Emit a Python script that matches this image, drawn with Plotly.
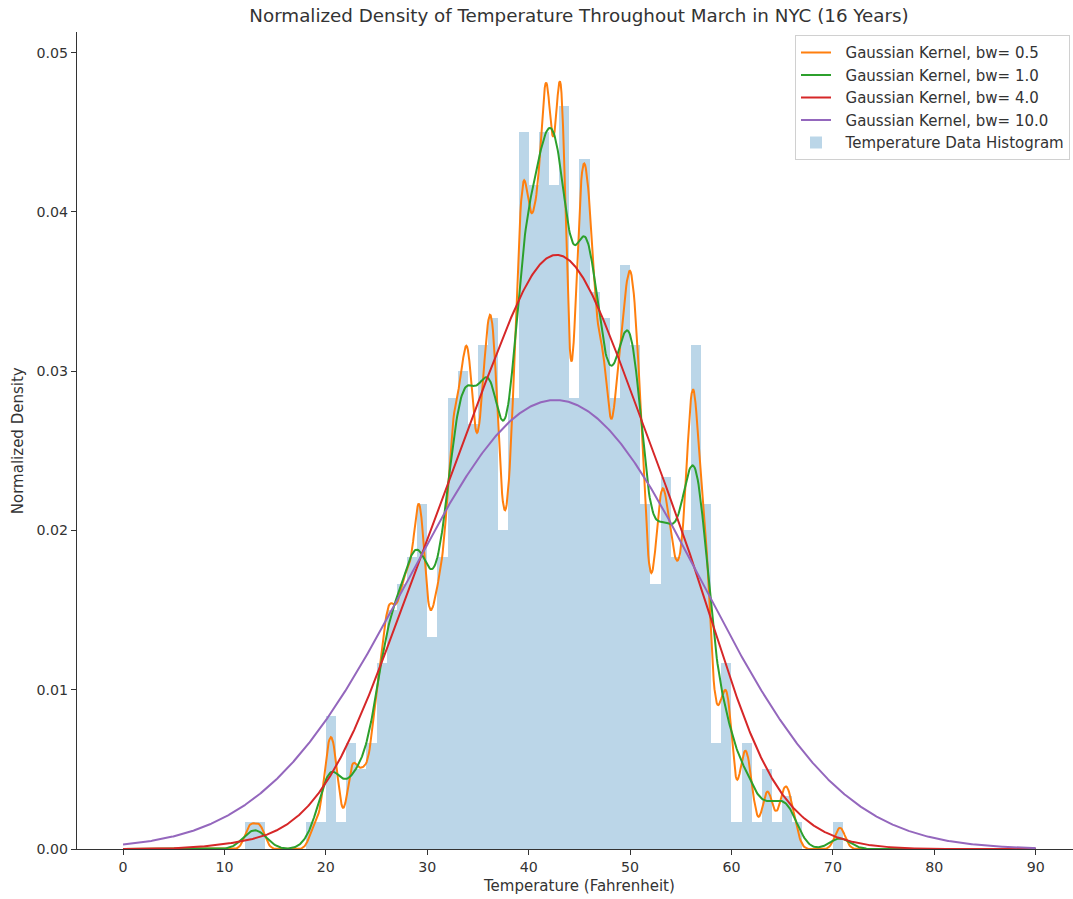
import numpy as np
import plotly.graph_objects as go

# ---- data ----
# histogram bins are 1 degF wide, starting at these left edges
bin_left = list(range(12, 71))
# position of the readings inside each bin (degF above the bin's left edge)
sub_offsets = [0.1, 0.3, 0.5, 0.7, 0.9]
# number of March days at each sub-position, one row per bin
sub_counts = [
    [0, 0, 1, 0, 0], [0, 0, 1, 0, 0], [0, 0, 0, 0, 0], [0, 0, 0, 0, 0], [0, 0, 0, 0, 0],   # 12-16
    [0, 0, 0, 0, 0], [0, 0, 0, 0, 1], [0, 0, 0, 0, 1], [1, 1, 1, 1, 1], [1, 0, 0, 0, 0],   # 17-21
    [0, 1, 1, 1, 1], [0, 0, 1, 1, 1], [0, 0, 1, 1, 2], [1, 1, 1, 2, 2], [2, 2, 2, 2, 1],   # 22-26
    [2, 2, 2, 2, 2], [3, 2, 1, 2, 3], [3, 4, 3, 2, 1], [1, 2, 2, 2, 1], [3, 2, 2, 2, 2],   # 27-31
    [3, 3, 4, 4, 3], [3, 3, 4, 4, 4], [5, 4, 3, 2, 2], [4, 3, 3, 4, 5], [3, 5, 5, 4, 3],   # 32-36
    [3, 2, 2, 2, 3], [2, 3, 3, 4, 5], [4, 6, 6, 6, 5], [3, 4, 5, 6, 7], [1, 4, 8, 9, 5],   # 37-41
    [7, 3, 3, 5, 7], [7, 8, 7, 4, 2], [1, 3, 4, 5, 4], [6, 6, 6, 5, 3], [7, 5, 4, 3, 2],   # 42-46
    [5, 5, 4, 3, 3], [3, 2, 3, 4, 5], [4, 3, 3, 5, 7], [3, 4, 5, 4, 3], [4, 3, 2, 2, 2],   # 47-51
    [1, 2, 2, 3, 2], [4, 3, 3, 2, 2], [3, 2, 2, 2, 2], [2, 2, 3, 3, 2], [6, 5, 3, 2, 3],   # 52-56
    [2, 3, 3, 3, 2], [0, 0, 1, 2, 1], [1, 0, 2, 3, 1], [0, 0, 0, 0, 1], [1, 1, 1, 1, 0],   # 57-61
    [1, 0, 0, 0, 0], [0, 1, 1, 0, 1], [0, 0, 0, 0, 1], [0, 1, 1, 0, 0], [1, 0, 0, 0, 0],   # 62-66
    [0, 0, 0, 0, 0], [0, 0, 0, 0, 0], [0, 0, 0, 0, 0], [0, 0, 0, 1, 0],                    # 67-70
]

bandwidths = [0.5, 1.0, 4.0, 10.0]
line_colors = ["#ff7f0e", "#2ca02c", "#d62728", "#9467bd"]
x_ticks = [0, 10, 20, 30, 40, 50, 60, 70, 80, 90]
y_ticks = [0.00, 0.01, 0.02, 0.03, 0.04, 0.05]

temps = np.array([k + s for k in bin_left for s in sub_offsets])
days = np.array(sub_counts).ravel()
data = np.repeat(temps, days)
grid = np.linspace(0, 90, 1200)


def gaussian_kde(samples, xs, bw):
    z = (xs[:, None] - samples[None, :]) / bw
    return np.exp(-0.5 * z ** 2).sum(axis=1) / (len(samples) * bw * np.sqrt(2 * np.pi))


fig = go.Figure()
for bw, col in zip(bandwidths, line_colors):
    fig.add_trace(go.Scatter(
        x=grid, y=gaussian_kde(data, grid, bw), mode="lines",
        line=dict(color=col, width=2), name=f"\u00a0\u00a0Gaussian Kernel, bw= {bw}"))

fig.add_trace(go.Histogram(
    x=data, xbins=dict(start=12, end=71, size=1), histnorm="probability density",
    marker=dict(color="rgba(31,119,180,0.3)", line=dict(width=0)),
    name="\u00a0\u00a0Temperature Data Histogram"))

W, H = 1073, 899
L, T, B = 77.3, 31.7, 49.7
pw, ph = W - L, H - T - B
font = "DejaVu Sans, Arial, sans-serif"

fig.update_layout(
    width=W, height=H, autosize=False,
    margin=dict(l=L, r=0, t=T, b=B, pad=0),
    paper_bgcolor="white", plot_bgcolor="white", bargap=0,
    font=dict(family=font, size=15, color="#333"),
    title=dict(text="Normalized Density of Temperature Throughout March in NYC (16 Years)",
               x=579 / W, xanchor="center", y=1 - 16 / H, yanchor="middle",
               xref="container", yref="container", font=dict(size=18.3, color="#333")),
    legend=dict(x=(1070 - L) / pw, xanchor="right", y=(849.3 - 35) / ph, yanchor="top",
                bgcolor="rgba(255,255,255,0.85)", bordercolor="#d0d0d0", borderwidth=1,
                font=dict(size=15, color="#333"), itemwidth=30),
    xaxis=dict(range=[-4.54, (W - 123.3) / 10.138], tickvals=x_ticks,
               ticks="outside", ticklen=5, tickwidth=1.1, tickcolor="#333",
               showline=True, linecolor="#333", linewidth=1.1, showgrid=False, zeroline=False,
               tickfont=dict(size=14.2)),
    yaxis=dict(range=[0, 0.0513], tickvals=y_ticks, tickformat=".2f",
               ticks="outside", ticklen=5, tickwidth=1.1, tickcolor="#333",
               showline=True, linecolor="#333", linewidth=1.1, mirror=True, showgrid=False,
               zeroline=False, tickfont=dict(size=14.2)),
    annotations=[
        dict(text="Temperature (Fahrenheit)", xref="paper", yref="paper",
             x=(579 - L) / pw, y=-(886 - 849.3) / ph, xanchor="center", yanchor="middle",
             showarrow=False, font=dict(size=15, color="#333")),
        dict(text="Normalized Density", xref="paper", yref="paper", textangle=-90,
             x=-(77.3 - 18) / pw, y=0.5, xanchor="center", yanchor="middle",
             showarrow=False, font=dict(size=15, color="#333")),
    ],
)

fig.write_html("out.html")
